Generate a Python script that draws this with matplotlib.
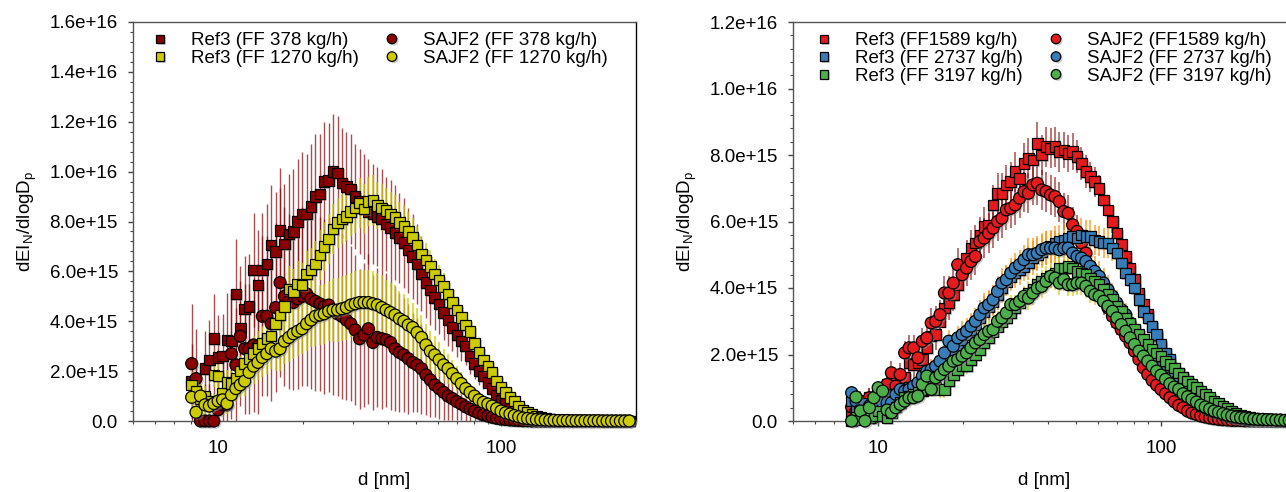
import numpy as np
import matplotlib.pyplot as plt
import matplotlib.patheffects as pe
from matplotlib.ticker import AutoMinorLocator, FuncFormatter, LogLocator, NullFormatter

plt.rcParams['font.family'] = ['Liberation Sans', 'DejaVu Sans']
plt.rcParams['mathtext.fontset'] = 'custom'
plt.rcParams['mathtext.rm'] = 'Liberation Sans'
plt.rcParams['mathtext.it'] = 'Liberation Sans:italic'
plt.rcParams['mathtext.default'] = 'regular'

# particle diameter, nm (64 channels per decade)
d = [8.06, 8.35, 8.66, 8.98, 9.31, 9.65, 10.0, 10.37, 10.75, 11.14,
     11.55, 11.97, 12.41, 12.86, 13.34, 13.82, 14.33, 14.86, 15.40, 15.97,
     16.55, 17.15, 17.78, 18.43, 19.11, 19.81, 20.54, 21.29, 22.07, 22.88,
     23.71, 24.58, 25.48, 26.42, 27.38, 28.39, 29.43, 30.51, 31.62, 32.78,
     33.98, 35.22, 36.52, 37.86, 39.24, 40.68, 42.17, 43.71, 45.32, 46.98,
     48.70, 50.48, 52.33, 54.25, 56.23, 58.29, 60.43, 62.64, 64.94, 67.32,
     69.78, 72.34, 74.99, 77.74, 80.59, 83.54, 86.60, 89.78, 93.06, 96.47,
     100.0, 103.7, 107.5, 111.4, 115.5, 119.7, 124.1, 128.6, 133.4, 138.2,
     143.3, 148.6, 154.0, 159.7, 165.5, 171.5, 177.8, 184.3, 191.1, 198.1,
     205.4, 212.9, 220.7, 228.8, 237.1, 245.8, 254.8, 264.2, 273.8, 283.9]

# values in units of 1e15 (dEI_N/dlogDp)
ref3_378 = [1.6, 1.2, 1.0, 2.1, 2.45, 3.3, 2.55, 2.6, 3.25, 3.2,
            5.1, 3.7, 4.5, 4.6, 6.05, 5.45, 6.05, 6.3, 7.05, 6.8,
            7.65, 7.1, 7.5, 7.6, 8.0, 8.3, 8.3, 8.6, 9.0, 9.1,
            9.6, 9.65, 10.0, 9.95, 9.55, 9.4, 9.3, 9.0, 8.8, 8.6,
            8.4, 8.3, 8.2, 8.1, 7.9, 7.75, 7.55, 7.35, 7.15, 6.85,
            6.6, 6.3, 5.9, 5.55, 5.25, 4.95, 4.7, 4.35, 4.05, 3.75,
            3.45, 3.2, 3.0, 2.6, 2.3, 2.0, 1.8, 1.55, 1.3, 1.05,
            0.85, 0.7, 0.5, 0.42, 0.25, 0.18, 0.12, 0.08, 0.05, 0.03,
            0.02, 0.02, 0.01, 0.01, 0.01, 0.0, 0.0, 0.0, 0.0, 0.0,
            0.0, 0.0, 0.0, 0.0, 0.0, 0.0, 0.0, 0.0, 0.0, 0.0]
ref3_378_err = [1.5, 1.3, 1.2, 1.5, 1.6, 1.8, 1.7, 1.7, 1.9, 1.9,
                2.2, 1.9, 2.1, 2.1, 2.3, 2.2, 2.3, 2.4, 2.4, 2.4,
                2.5, 2.4, 2.4, 2.5, 2.5, 2.5, 2.4, 2.5, 2.5, 2.4,
                2.4, 2.3, 2.3, 2.3, 2.2, 2.2, 2.2, 2.1, 2.1, 2.1,
                2.1, 2.0, 2.0, 2.0, 1.9, 1.9, 1.9, 1.8, 1.8, 1.7,
                1.7, 1.6, 1.5, 1.4, 1.4, 1.3, 1.2, 1.1, 1.05, 0.95,
                0.9, 0.8, 0.75, 0.7, 0.6, 0.55, 0.5, 0.45, 0.4, 0.35,
                0.3, 0.25, 0.2, 0.15, 0.12, 0.1, 0.08, 0.06, 0.05, 0.04,
                0.03, 0.02, 0.02, 0.01, 0.01, 0.0, 0.0, 0.0, 0.0, 0.0,
                0.0, 0.0, 0.0, 0.0, 0.0, 0.0, 0.0, 0.0, 0.0, 0.0]
sajf2_378 = [2.3, 1.7, 0.0, 0.0, 0.0, 0.0, 0.45, 0.65, 0.65, 2.7,
             2.25, 3.4, 2.9, 2.9, 3.05, 3.0, 4.2, 4.2, 3.9, 4.55,
             5.55, 5.0, 4.8, 4.75, 4.9, 5.0, 5.1, 4.9, 4.8, 4.7,
             4.6, 4.65, 4.45, 4.3, 4.2, 4.05, 3.9, 3.65, 3.3, 3.45,
             3.7, 3.15, 3.35, 3.3, 3.25, 3.15, 2.9, 2.75, 2.65, 2.5,
             2.35, 2.25, 2.1, 1.85, 1.65, 1.45, 1.3, 1.15, 1.0, 0.9,
             0.78, 0.68, 0.57, 0.48, 0.4, 0.32, 0.25, 0.2, 0.15, 0.11,
             0.08, 0.06, 0.04, 0.03, 0.02, 0.01, 0.01, 0.0, 0.0, 0.0,
             0.0, 0.0, 0.0, 0.0, 0.0, 0.0, 0.0, 0.0, 0.0, 0.0,
             0.0, 0.0, 0.0, 0.0, 0.0, 0.0, 0.0, 0.0, 0.0, 0.0]
sajf2_378_err = [2.4, 2.0, 1.5, 1.5, 1.5, 1.5, 1.6, 1.7, 1.8, 2.6,
                 2.3, 2.8, 2.6, 2.6, 2.7, 2.7, 3.2, 3.2, 3.1, 3.4,
                 3.8, 3.6, 3.5, 3.5, 3.6, 3.6, 3.7, 3.6, 3.6, 3.5,
                 3.5, 3.5, 3.4, 3.3, 3.3, 3.2, 3.1, 3.0, 2.8, 2.9,
                 3.0, 2.7, 2.8, 2.8, 2.7, 2.7, 2.5, 2.4, 2.3, 2.2,
                 2.0, 1.9, 1.8, 1.6, 1.5, 1.3, 1.2, 1.1, 0.95, 0.85,
                 0.75, 0.65, 0.55, 0.47, 0.4, 0.32, 0.26, 0.2, 0.16, 0.12,
                 0.09, 0.07, 0.05, 0.04, 0.03, 0.02, 0.01, 0.0, 0.0, 0.0,
                 0.0, 0.0, 0.0, 0.0, 0.0, 0.0, 0.0, 0.0, 0.0, 0.0,
                 0.0, 0.0, 0.0, 0.0, 0.0, 0.0, 0.0, 0.0, 0.0, 0.0]
ref3_1270 = [1.45, 1.2, 0.9, 1.0, 0.8, 1.85, 1.8, 1.1, 1.55, 1.5,
             1.7, 2.0, 2.3, 2.5, 2.7, 2.9, 3.1, 3.3, 3.4, 3.9,
             4.25, 4.6, 5.3, 5.2, 5.5, 5.45, 5.9, 6.05, 6.3, 6.65,
             7.0, 7.3, 7.7, 7.95, 8.1, 8.2, 8.4, 8.55, 8.75, 8.5,
             8.8, 8.85, 8.65, 8.55, 8.45, 8.3, 8.15, 7.95, 7.8, 7.6,
             7.35, 7.05, 6.7, 6.45, 6.2, 5.9, 5.65, 5.4, 5.1, 4.75,
             4.45, 4.15, 3.85, 3.6, 3.1, 2.75, 2.45, 2.2, 1.95, 1.6,
             1.35, 1.15, 0.95, 0.8, 0.6, 0.45, 0.33, 0.25, 0.18, 0.13,
             0.09, 0.06, 0.04, 0.03, 0.02, 0.02, 0.01, 0.01, 0.01, 0.01,
             0.0, 0.0, 0.0, 0.0, 0.0, 0.0, 0.0, 0.0, 0.0, 0.0]
ref3_1270_err = [0.5, 0.4, 0.4, 0.4, 0.4, 0.5, 0.5, 0.4, 0.5, 0.5,
                 0.5, 0.6, 0.6, 0.6, 0.7, 0.7, 0.7, 0.7, 0.7, 0.8,
                 0.8, 0.8, 0.9, 0.9, 0.9, 0.9, 0.9, 0.9, 0.9, 1.0,
                 1.0, 1.0, 1.0, 1.0, 1.0, 1.0, 1.0, 1.0, 1.0, 1.0,
                 1.0, 1.0, 0.95, 0.95, 0.9, 0.9, 0.9, 0.85, 0.85, 0.8,
                 0.8, 0.75, 0.7, 0.7, 0.65, 0.6, 0.6, 0.55, 0.5, 0.5,
                 0.45, 0.4, 0.4, 0.35, 0.3, 0.3, 0.25, 0.22, 0.2, 0.17,
                 0.15, 0.12, 0.1, 0.08, 0.07, 0.05, 0.04, 0.03, 0.02, 0.02,
                 0.01, 0.01, 0.01, 0.01, 0.01, 0.0, 0.0, 0.0, 0.0, 0.0,
                 0.0, 0.0, 0.0, 0.0, 0.0, 0.0, 0.0, 0.0, 0.0, 0.0]
sajf2_1270 = [0.95, 0.35, 1.0, 0.65, 0.6, 0.7, 0.8, 0.85, 0.7, 1.05,
              1.3, 1.45, 1.6, 1.95, 2.2, 2.35, 2.55, 2.7, 2.9, 2.8,
              2.9, 3.2, 3.35, 3.5, 3.6, 3.7, 3.9, 4.05, 4.2, 4.25,
              4.3, 4.4, 4.45, 4.45, 4.5, 4.55, 4.65, 4.7, 4.75, 4.75,
              4.75, 4.7, 4.65, 4.55, 4.45, 4.35, 4.25, 4.1, 4.0, 3.85,
              3.75, 3.55, 3.35, 3.05, 2.8, 2.65, 2.45, 2.25, 2.1, 1.9,
              1.7, 1.5, 1.3, 1.15, 1.0, 0.85, 0.75, 0.68, 0.6, 0.5,
              0.4, 0.33, 0.28, 0.22, 0.17, 0.12, 0.1, 0.08, 0.06, 0.05,
              0.04, 0.03, 0.03, 0.02, 0.02, 0.02, 0.01, 0.01, 0.01, 0.01,
              0.01, 0.01, 0.01, 0.0, 0.0, 0.0, 0.0, 0.0, 0.0, 0.0]
sajf2_1270_err = [0.5, 0.4, 0.5, 0.4, 0.4, 0.4, 0.4, 0.4, 0.4, 0.5,
                  0.5, 0.5, 0.6, 0.6, 0.7, 0.7, 0.8, 0.8, 0.8, 0.8,
                  0.9, 0.9, 1.0, 1.0, 1.0, 1.0, 1.1, 1.1, 1.2, 1.2,
                  1.2, 1.2, 1.3, 1.3, 1.3, 1.3, 1.3, 1.3, 1.3, 1.3,
                  1.3, 1.3, 1.3, 1.3, 1.2, 1.2, 1.2, 1.1, 1.1, 1.1,
                  1.0, 1.0, 0.9, 0.85, 0.8, 0.75, 0.7, 0.65, 0.6, 0.55,
                  0.5, 0.45, 0.4, 0.35, 0.3, 0.25, 0.22, 0.2, 0.18, 0.15,
                  0.12, 0.1, 0.08, 0.07, 0.05, 0.04, 0.03, 0.02, 0.02, 0.01,
                  0.01, 0.01, 0.01, 0.0, 0.0, 0.0, 0.0, 0.0, 0.0, 0.0,
                  0.0, 0.0, 0.0, 0.0, 0.0, 0.0, 0.0, 0.0, 0.0, 0.0]

ref3_1589 = [0.3, 0.2, 0.5, 0.4, 0.7, 0.6, 0.9, 0.8, 1.1, 1.0,
             1.2, 1.25, 1.3, 1.75, 1.7, 1.75, 1.85, 2.2, 2.55, 2.6,
             3.0, 3.4, 3.55, 3.8, 4.1, 4.5, 4.9, 5.2, 5.35, 5.6,
             5.85, 5.9, 6.5, 6.85, 6.85, 7.1, 7.2, 7.5, 7.3, 7.75,
             7.9, 7.85, 8.35, 8.0, 8.25, 8.2, 8.25, 8.1, 8.15, 8.05,
             8.1, 7.95, 7.75, 7.5, 7.35, 7.2, 7.0, 6.65, 6.35, 6.0,
             5.65, 5.3, 4.95, 4.6, 4.25, 3.85, 3.5, 3.2, 2.85, 2.55,
             2.25, 1.95, 1.7, 1.45, 1.22, 1.02, 0.85, 0.7, 0.56, 0.44,
             0.35, 0.27, 0.2, 0.15, 0.11, 0.08, 0.06, 0.04, 0.03, 0.02,
             0.02, 0.01, 0.01, 0.01, 0.01, 0.0, 0.0, 0.0, 0.0, 0.0]
sajf2_1589 = [0.42, 0.3, 0.6, 0.5, 0.7, 0.6, 0.85, 0.8, 1.1, 1.45,
              1.05, 1.4, 2.05, 2.2, 2.2, 1.9, 2.4, 2.5, 2.95, 3.0,
              3.2, 3.85, 3.85, 4.15, 4.7, 4.4, 4.6, 4.8, 4.95, 5.4,
              5.5, 5.65, 5.8, 6.0, 6.1, 6.35, 6.4, 6.5, 6.7, 6.9,
              6.85, 7.1, 7.15, 6.95, 6.9, 6.8, 6.75, 6.6, 6.3, 6.25,
              5.9, 5.7, 5.35, 5.05, 4.65, 4.3, 3.95, 3.6, 3.4, 3.15,
              2.95, 2.75, 2.55, 2.35, 2.1, 1.85, 1.6, 1.4, 1.22, 1.08,
              0.95, 0.82, 0.7, 0.58, 0.47, 0.4, 0.3, 0.24, 0.2, 0.15,
              0.12, 0.09, 0.07, 0.05, 0.04, 0.03, 0.02, 0.02, 0.02, 0.01,
              0.01, 0.01, 0.01, 0.01, 0.01, 0.0, 0.0, 0.0, 0.0, 0.0]
err_1589 = [0.3, 0.3, 0.3, 0.3, 0.3, 0.3, 0.3, 0.3, 0.35, 0.35,
            0.35, 0.35, 0.35, 0.4, 0.4, 0.4, 0.4, 0.45, 0.45, 0.45,
            0.45, 0.5, 0.5, 0.5, 0.5, 0.5, 0.55, 0.55, 0.55, 0.55,
            0.6, 0.6, 0.6, 0.6, 0.6, 0.6, 0.6, 0.6, 0.6, 0.6,
            0.6, 0.6, 0.65, 0.6, 0.6, 0.6, 0.6, 0.6, 0.55, 0.55,
            0.55, 0.5, 0.5, 0.5, 0.45, 0.45, 0.4, 0.4, 0.4, 0.35,
            0.35, 0.3, 0.3, 0.3, 0.25, 0.25, 0.2, 0.2, 0.2, 0.15,
            0.15, 0.12, 0.1, 0.1, 0.08, 0.07, 0.06, 0.05, 0.04, 0.03,
            0.02, 0.02, 0.02, 0.02, 0.02, 0.01, 0.01, 0.01, 0.01, 0.01,
            0.0, 0.0, 0.0, 0.0, 0.0, 0.0, 0.0, 0.0, 0.0, 0.0]
ref3_2737 = [0.6, 0.4, 0.5, 0.3, 0.5, 0.4, 0.6, 0.5, 0.7, 0.6,
             0.8, 0.8, 0.9, 1.0, 1.0, 1.1, 1.2, 1.3, 1.4, 1.5,
             1.65, 1.8, 1.95, 2.1, 2.3, 2.45, 2.6, 2.75, 2.9, 3.1,
             3.3, 3.45, 3.6, 3.8, 4.0, 4.2, 4.35, 4.45, 4.55, 4.65,
             4.75, 4.9, 5.0, 5.1, 5.2, 5.25, 5.35, 5.4, 5.45, 5.5,
             5.55, 5.5, 5.6, 5.55, 5.55, 5.45, 5.4, 5.35, 5.35, 5.2,
             5.05, 4.75, 4.45, 4.25, 4.0, 3.65, 3.3, 3.1, 2.85, 2.6,
             2.3, 2.05, 1.85, 1.6, 1.45, 1.3, 1.2, 1.08, 0.95, 0.82,
             0.7, 0.6, 0.5, 0.42, 0.32, 0.25, 0.19, 0.14, 0.1, 0.07,
             0.05, 0.04, 0.03, 0.03, 0.02, 0.02, 0.01, 0.01, 0.01, 0.01]
sajf2_2737 = [0.85, 0.6, 0.35, 0.5, 0.45, 0.1, 0.42, 0.55, 0.55, 0.55,
              0.8, 0.95, 0.9, 0.95, 1.05, 1.15, 1.35, 1.5, 1.55, 1.65,
              1.8, 2.05, 2.4, 2.25, 2.5, 2.6, 2.7, 2.85, 3.0, 3.2,
              3.4, 3.5, 3.65, 3.9, 4.15, 4.25, 4.45, 4.6, 4.7, 4.85,
              5.0, 5.0, 5.05, 5.15, 5.2, 5.2, 5.2, 5.15, 5.2, 5.2,
              5.05, 4.95, 4.9, 4.8, 4.65, 4.5, 4.35, 4.15, 3.95, 3.75,
              3.55, 3.35, 3.2, 2.95, 2.7, 2.5, 2.35, 2.2, 2.05, 1.85,
              1.6, 1.45, 1.3, 1.15, 1.0, 0.9, 0.77, 0.65, 0.55, 0.45,
              0.4, 0.33, 0.28, 0.24, 0.19, 0.15, 0.12, 0.1, 0.08, 0.06,
              0.05, 0.04, 0.04, 0.03, 0.03, 0.02, 0.02, 0.02, 0.01, 0.01]
err_2737 = [0.2, 0.2, 0.2, 0.2, 0.2, 0.2, 0.2, 0.2, 0.2, 0.2,
            0.25, 0.25, 0.25, 0.25, 0.25, 0.3, 0.3, 0.3, 0.3, 0.3,
            0.3, 0.3, 0.35, 0.35, 0.35, 0.4, 0.4, 0.4, 0.4, 0.45,
            0.45, 0.45, 0.45, 0.45, 0.45, 0.45, 0.45, 0.45, 0.45, 0.45,
            0.5, 0.5, 0.5, 0.5, 0.5, 0.5, 0.5, 0.5, 0.5, 0.5,
            0.5, 0.5, 0.5, 0.5, 0.5, 0.45, 0.45, 0.45, 0.45, 0.4,
            0.4, 0.35, 0.35, 0.3, 0.3, 0.3, 0.25, 0.25, 0.2, 0.2,
            0.18, 0.16, 0.14, 0.12, 0.1, 0.09, 0.08, 0.07, 0.06, 0.05,
            0.04, 0.03, 0.03, 0.02, 0.02, 0.01, 0.01, 0.01, 0.01, 0.01,
            0.0, 0.0, 0.0, 0.0, 0.0, 0.0, 0.0, 0.0, 0.0, 0.0]
ref3_3197 = [0.0, 0.1, 0.05, 0.2, 0.1, 0.15, 0.3, 0.15, 0.1, 0.25,
             0.42, 0.55, 0.7, 0.75, 0.8, 0.85, 0.9, 0.95, 0.95, 1.0,
             0.95, 0.95, 1.2, 1.4, 1.55, 1.65, 1.65, 1.85, 2.0, 2.15,
             2.35, 2.5, 2.7, 2.85, 3.0, 3.1, 3.25, 3.4, 3.55, 3.7,
             3.85, 3.95, 4.1, 4.2, 4.3, 4.35, 4.45, 4.6, 4.6, 4.65,
             4.6, 4.5, 4.45, 4.4, 4.3, 4.2, 4.1, 3.95, 3.8, 3.65,
             3.45, 3.3, 3.1, 2.95, 2.75, 2.6, 2.45, 2.3, 2.15, 2.05,
             1.95, 1.8, 1.7, 1.6, 1.45, 1.3, 1.2, 1.1, 1.0, 0.9,
             0.8, 0.7, 0.6, 0.52, 0.45, 0.38, 0.3, 0.24, 0.18, 0.14,
             0.1, 0.08, 0.06, 0.05, 0.04, 0.03, 0.03, 0.02, 0.02, 0.01]
sajf2_3197 = [0.0, 0.72, 0.3, 0.0, 0.4, 0.7, 1.0, 0.9, 0.33, 0.25,
              0.4, 0.5, 0.6, 0.7, 0.7, 0.75, 1.1, 1.35, 0.95, 1.3,
              1.4, 1.55, 1.65, 1.8, 1.85, 1.95, 2.05, 2.2, 2.35, 2.45,
              2.6, 2.7, 2.75, 3.0, 3.1, 3.25, 3.5, 3.5, 3.6, 3.75,
              3.7, 3.85, 4.0, 4.05, 4.2, 4.35, 4.3, 4.15, 4.25, 4.1,
              4.1, 4.15, 4.15, 4.05, 3.9, 3.8, 3.75, 3.6, 3.45, 3.3,
              3.1, 2.9, 2.7, 2.5, 2.3, 2.1, 1.95, 1.8, 1.65, 1.5,
              1.38, 1.25, 1.12, 1.02, 0.95, 0.82, 0.73, 0.65, 0.57, 0.48,
              0.42, 0.36, 0.3, 0.26, 0.22, 0.18, 0.15, 0.12, 0.1, 0.09,
              0.07, 0.06, 0.05, 0.05, 0.04, 0.04, 0.03, 0.03, 0.02, 0.02]
err_3197 = [0.15, 0.15, 0.15, 0.15, 0.15, 0.15, 0.15, 0.15, 0.15, 0.15,
            0.2, 0.2, 0.2, 0.2, 0.2, 0.2, 0.2, 0.2, 0.2, 0.2,
            0.25, 0.25, 0.25, 0.25, 0.25, 0.25, 0.25, 0.25, 0.25, 0.25,
            0.3, 0.3, 0.3, 0.3, 0.3, 0.3, 0.3, 0.3, 0.3, 0.3,
            0.35, 0.35, 0.35, 0.35, 0.35, 0.35, 0.35, 0.35, 0.35, 0.35,
            0.35, 0.35, 0.35, 0.35, 0.35, 0.3, 0.3, 0.3, 0.3, 0.3,
            0.3, 0.28, 0.26, 0.24, 0.22, 0.2, 0.19, 0.18, 0.17, 0.16,
            0.15, 0.14, 0.13, 0.12, 0.11, 0.1, 0.09, 0.08, 0.07, 0.06,
            0.05, 0.05, 0.04, 0.04, 0.03, 0.03, 0.02, 0.02, 0.02, 0.01,
            0.01, 0.01, 0.01, 0.01, 0.01, 0.0, 0.0, 0.0, 0.0, 0.0]

UNIT = 1e15
DARKRED = '#8B0000'
YELLOW = '#CCCC00'
RED = '#E41A1C'
BLUE = '#377EB8'
GREEN = '#4DAF4A'
FS = 13.5

shadow = [pe.SimplePatchShadow(offset=(1.3, -1.3), shadow_rgbFace='0.55', alpha=0.45), pe.Normal()]


def draw(ax, y, err, color, ecolor, marker, label, ealpha=0.6, elw=1.2):
    y = np.array(y) * UNIT
    ax.errorbar(d, y, yerr=np.array(err) * UNIT, fmt='none', ecolor=ecolor,
                elinewidth=elw, alpha=ealpha, capsize=0, zorder=1)
    ms = 7.6 if marker == 's' else 8.6
    line, = ax.plot(d, y, ls='none', marker=marker, ms=ms, mfc=color, mec='black',
                    mew=0.9, clip_on=False, zorder=3, label=label, path_effects=shadow)
    return line


def style(ax, ymax):
    ax.set_xscale('log')
    ax.set_xlim(5, 300)
    ax.set_ylim(0, ymax)
    ax.set_yticks(np.arange(0, ymax + 1e14, 2e15))
    ax.yaxis.set_minor_locator(AutoMinorLocator(5))
    ax.yaxis.set_major_formatter(FuncFormatter(lambda v, p: '0.0' if v == 0 else f'{v:.1e}'))
    ax.xaxis.set_major_locator(LogLocator(base=10))
    ax.xaxis.set_minor_locator(LogLocator(base=10, subs=range(2, 10)))
    ax.xaxis.set_major_formatter(FuncFormatter(lambda v, p: f'{v:g}'))
    ax.xaxis.set_minor_formatter(NullFormatter())
    ax.tick_params(which='major', direction='out', length=3.8, width=1.0, labelsize=FS, color='#444444')
    ax.tick_params(which='minor', direction='out', length=2.4, width=0.8, color='#444444')
    ax.tick_params(axis='y', pad=7)
    ax.tick_params(axis='x', pad=10)
    for s in ['left', 'bottom', 'top']:
        ax.spines[s].set_color('#555555')
    ax.spines['right'].set_color('black')
    for s in ax.spines.values():
        s.set_linewidth(1.0)
    ax.set_xlabel('d [nm]', fontsize=FS, labelpad=11)
    ax.set_ylabel(r'dEI$_N$/dlogD$_p$', fontsize=FS, labelpad=8)


fig = plt.figure(figsize=(12.86, 4.92), dpi=100)
ax1 = fig.add_axes([133 / 1286, 71 / 492, 503 / 1286, 399 / 492])
ax2 = fig.add_axes([793 / 1286, 71 / 492, 503 / 1286, 399 / 492])

# left panel
h1 = draw(ax1, ref3_378, ref3_378_err, DARKRED, DARKRED, 's', 'Ref3 (FF 378 kg/h)', ealpha=0.7, elw=1.0)
h2 = draw(ax1, sajf2_378, sajf2_378_err, DARKRED, DARKRED, 'o', 'SAJF2 (FF 378 kg/h)', ealpha=0.7, elw=1.0)
h3 = draw(ax1, ref3_1270, ref3_1270_err, YELLOW, YELLOW, 's', 'Ref3 (FF 1270 kg/h)', ealpha=0.7, elw=1.4)
h4 = draw(ax1, sajf2_1270, sajf2_1270_err, YELLOW, YELLOW, 'o', 'SAJF2 (FF 1270 kg/h)', ealpha=0.7, elw=1.4)
style(ax1, 1.6e16)
ax1.legend(handles=[h1, h3, h2, h4], ncol=2, loc='upper left', bbox_to_anchor=(0.035, 0.974),
           frameon=False, fontsize=FS, borderpad=0, borderaxespad=0, handlelength=1.0,
           handletextpad=1.15, columnspacing=1.27, labelspacing=0.03, markerscale=0.8)

# right panel
g1 = draw(ax2, ref3_1589, err_1589, RED, DARKRED, 's', 'Ref3 (FF1589 kg/h)', ealpha=0.7, elw=1.1)
g4 = draw(ax2, sajf2_1589, err_1589, RED, DARKRED, 'o', 'SAJF2 (FF1589 kg/h)', ealpha=0.7, elw=1.1)
g2 = draw(ax2, ref3_2737, err_2737, BLUE, '#FF8C00', 's', 'Ref3 (FF 2737 kg/h)', ealpha=0.75)
g5 = draw(ax2, sajf2_2737, err_2737, BLUE, '#FF8C00', 'o', 'SAJF2 (FF 2737 kg/h)', ealpha=0.75)
g3 = draw(ax2, ref3_3197, err_3197, GREEN, YELLOW, 's', 'Ref3 (FF 3197 kg/h)', ealpha=0.75)
g6 = draw(ax2, sajf2_3197, err_3197, GREEN, YELLOW, 'o', 'SAJF2 (FF 3197 kg/h)', ealpha=0.75)
style(ax2, 1.2e16)
ax2.legend(handles=[g1, g2, g3, g4, g5, g6], ncol=2, loc='upper left', bbox_to_anchor=(0.043, 0.974),
           frameon=False, fontsize=FS, borderpad=0, borderaxespad=0, handlelength=1.0,
           handletextpad=1.15, columnspacing=1.27, labelspacing=0.03, markerscale=0.8)

fig.savefig('out.png', dpi=100, facecolor='white')
